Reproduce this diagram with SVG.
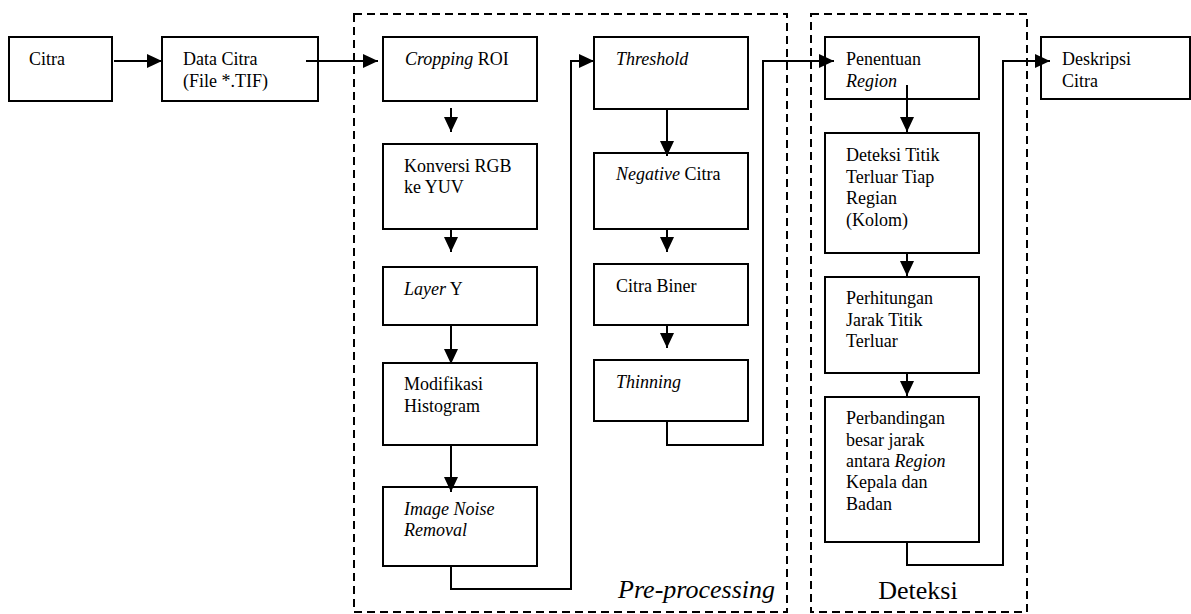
<svg xmlns="http://www.w3.org/2000/svg" width="1191" height="614" viewBox="0 0 1191 614">
<style>
.box{fill:#fff;stroke:#000;stroke-width:2}
.grp{fill:none;stroke:#000;stroke-width:2;stroke-dasharray:8 5}
.c{fill:none;stroke:#000;stroke-width:2}
text{font-family:"Liberation Serif","Times New Roman",serif;font-size:18px;fill:#000}
.i{font-style:italic}
.big{font-size:26px}
</style>
<defs>
<marker id="ah" markerUnits="userSpaceOnUse" markerWidth="15" markerHeight="14" refX="15" refY="7" orient="auto">
<path d="M0,0 L15,7 L0,14 z" fill="#000"/>
</marker>
</defs>
<rect fill="#fff" width="1191" height="614"/>
<g id="preprocessing">
<rect class="grp" x="354" y="14" width="433" height="598"/>
<text class="i big" x="775" y="598" text-anchor="end" font-family="Liberation Serif">Pre-processing</text>
</g>
<g id="deteksi">
<rect class="grp" x="811" y="14" width="216" height="598"/>
<text class="big" x="918" y="599" text-anchor="middle" font-family="Liberation Serif">Deteksi</text>
</g>
<g id="citra"><rect class="box" x="9" y="37" width="103" height="64"/><text x="29" y="65" font-family="Liberation Serif">Citra</text></g>
<g id="data-citra"><rect class="box" x="162" y="37" width="156" height="64"/><text x="183" y="65" font-family="Liberation Serif">Data Citra</text><text x="183" y="87" font-family="Liberation Serif">(File *.TIF)</text></g>
<g id="cropping"><rect class="box" x="383" y="37" width="154" height="64"/><text x="405" y="65" font-family="Liberation Serif"><tspan class="i">Cropping</tspan> ROI</text></g>
<g id="konversi"><rect class="box" x="383" y="144" width="154" height="85"/><text x="404" y="172" font-family="Liberation Serif">Konversi RGB</text><text x="404" y="193" font-family="Liberation Serif">ke YUV</text></g>
<g id="layer"><rect class="box" x="383" y="267" width="154" height="58"/><text x="404" y="295" font-family="Liberation Serif"><tspan class="i">Layer</tspan> Y</text></g>
<g id="modifikasi"><rect class="box" x="383" y="363" width="154" height="82"/><text x="404" y="390" font-family="Liberation Serif">Modifikasi</text><text x="404" y="412" font-family="Liberation Serif">Histogram</text></g>
<g id="noise"><rect class="box" x="383" y="487" width="154" height="79"/><text class="i" x="404" y="515" font-family="Liberation Serif">Image Noise</text><text class="i" x="404" y="536" font-family="Liberation Serif">Removal</text></g>
<g id="threshold"><rect class="box" x="594" y="37" width="154" height="72"/><text class="i" x="616" y="65" font-family="Liberation Serif">Threshold</text></g>
<g id="negative"><rect class="box" x="594" y="153" width="154" height="76"/><text x="616" y="180" font-family="Liberation Serif"><tspan class="i">Negative</tspan> Citra</text></g>
<g id="biner"><rect class="box" x="594" y="264" width="154" height="61"/><text x="616" y="292" font-family="Liberation Serif">Citra Biner</text></g>
<g id="thinning"><rect class="box" x="594" y="360" width="154" height="61"/><text class="i" x="616" y="388" font-family="Liberation Serif">Thinning</text></g>
<g id="penentuan"><rect class="box" x="825" y="37" width="154" height="62"/><text x="846" y="65" font-family="Liberation Serif">Penentuan</text><text class="i" x="846" y="87" font-family="Liberation Serif">Region</text></g>
<g id="deteksi-titik"><rect class="box" x="825" y="133" width="154" height="120"/><text x="846" y="161" font-family="Liberation Serif">Deteksi Titik</text><text x="846" y="183" font-family="Liberation Serif">Terluar Tiap</text><text x="846" y="204" font-family="Liberation Serif">Regian</text><text x="846" y="226" font-family="Liberation Serif">(Kolom)</text></g>
<g id="perhitungan"><rect class="box" x="825" y="277" width="154" height="96"/><text x="846" y="304" font-family="Liberation Serif">Perhitungan</text><text x="846" y="326" font-family="Liberation Serif">Jarak Titik</text><text x="846" y="347" font-family="Liberation Serif">Terluar</text></g>
<g id="perbandingan"><rect class="box" x="825" y="397" width="154" height="145"/><text x="846" y="424" font-family="Liberation Serif">Perbandingan</text><text x="846" y="446" font-family="Liberation Serif">besar jarak</text><text x="846" y="467" font-family="Liberation Serif">antara <tspan class="i">Region</tspan></text><text x="846" y="488" font-family="Liberation Serif">Kepala dan</text><text x="846" y="510" font-family="Liberation Serif">Badan</text></g>
<g id="deskripsi"><rect class="box" x="1041" y="37" width="149" height="62"/><text x="1062" y="65" font-family="Liberation Serif">Deskripsi</text><text x="1062" y="87" font-family="Liberation Serif">Citra</text></g>
<g id="connectors">
<path class="c" marker-end="url(#ah)" d="M114,61 H162"/>
<path class="c" marker-end="url(#ah)" d="M306,61 H378"/>
<path class="c" marker-end="url(#ah)" d="M451,108 V132"/>
<path class="c" marker-end="url(#ah)" d="M451,229 V252"/>
<path class="c" marker-end="url(#ah)" d="M451,325 V364"/>
<path class="c" marker-end="url(#ah)" d="M451,445 V492"/>
<path class="c" marker-end="url(#ah)" d="M451,566 V589 H571 V61 H594"/>
<path class="c" marker-end="url(#ah)" d="M667,109 V156"/>
<path class="c" marker-end="url(#ah)" d="M667,229 V252"/>
<path class="c" marker-end="url(#ah)" d="M667,325 V348"/>
<path class="c" marker-end="url(#ah)" d="M667,421 V445 H763 V61 H834"/>
<path class="c" marker-end="url(#ah)" d="M907,85 V132"/>
<path class="c" marker-end="url(#ah)" d="M907,253 V276"/>
<path class="c" marker-end="url(#ah)" d="M907,373 V396"/>
<path class="c" marker-end="url(#ah)" d="M907,542 V565 H1003 V61 H1050"/>
</g>
</svg>
